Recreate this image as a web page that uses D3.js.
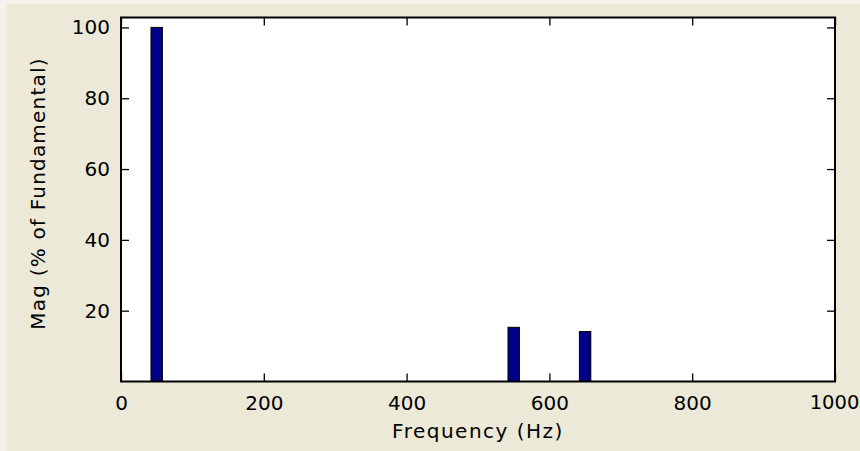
<!DOCTYPE html>
<html>
<head>
<meta charset="utf-8">
<script src="https://cdn.jsdelivr.net/npm/d3@7"></script>
<style>
  html, body { margin: 0; padding: 0; background: #f4f2eb; }
  svg { display: block; }
  text { font-family: "DejaVu Sans", sans-serif; fill: #000; }
</style>
</head>
<body>
<svg id="chart" width="860" height="451"></svg>
<script>
// Harmonic spectrum: frequency (Hz) and magnitude (% of fundamental)
const frequencies = [50, 550, 650];
const magnitudes = [100, 15.3, 14.1];
const xTicks = [0, 200, 400, 600, 800, 1000];
const yTicks = [20, 40, 60, 80, 100];
const xDomain = [0, 1000];
const yDomain = [0, 102.8];
const barWidthHz = 16;

const svg = d3.select("#chart");
const W = 860, H = 451;
const plot = { left: 121, right: 835, top: 17.5, bottom: 381.5 };

// Figure background panel
svg.append("rect").attr("x", 7).attr("y", 4).attr("width", W - 7).attr("height", H - 4)
  .attr("fill", "#ece9d8");

const x = d3.scaleLinear().domain(xDomain).range([plot.left, plot.right]);
const y = d3.scaleLinear().domain(yDomain).range([plot.bottom, plot.top]);

// Axes area
svg.append("rect")
  .attr("x", plot.left).attr("y", plot.top)
  .attr("width", plot.right - plot.left).attr("height", plot.bottom - plot.top)
  .attr("fill", "#fff");

// Bars
const bars = frequencies.map((f, i) => ({ f, m: magnitudes[i] }));
svg.append("g").selectAll("rect").data(bars).join("rect")
  .attr("x", d => x(d.f - barWidthHz / 2))
  .attr("width", d => x(d.f + barWidthHz / 2) - x(d.f - barWidthHz / 2))
  .attr("y", d => y(d.m))
  .attr("height", d => y(0) - y(d.m))
  .attr("fill", "#000088")
  .attr("stroke", "#000")
  .attr("stroke-width", 1);

const tickLen = 8;
const fontSize = 20;
const fmt = d3.format("d");

// Bottom axis with labels
const xAxis = svg.append("g").attr("transform", `translate(0,${plot.bottom})`)
  .call(d3.axisBottom(x).tickValues(xTicks).tickFormat(fmt)
    .tickSizeInner(-tickLen).tickSizeOuter(0).tickPadding(14));
// Top axis (ticks only)
const xAxisTop = svg.append("g").attr("transform", `translate(0,${plot.top})`)
  .call(d3.axisTop(x).tickValues(xTicks).tickSizeInner(-tickLen).tickSizeOuter(0).tickFormat(""));
// Left axis with labels
const yAxis = svg.append("g").attr("transform", `translate(${plot.left},0)`)
  .call(d3.axisLeft(y).tickValues(yTicks).tickFormat(fmt)
    .tickSizeInner(-tickLen).tickSizeOuter(0).tickPadding(11));
// Right axis (ticks only)
const yAxisRight = svg.append("g").attr("transform", `translate(${plot.right},0)`)
  .call(d3.axisRight(y).tickValues(yTicks).tickSizeInner(-tickLen).tickSizeOuter(0).tickFormat(""));

[xAxis, xAxisTop, yAxis, yAxisRight].forEach(g => {
  g.select(".domain").remove();
  g.selectAll(".tick line").attr("stroke", "#000").attr("stroke-width", 1.3);
  g.selectAll("text").attr("font-size", fontSize).attr("font-family", "DejaVu Sans, sans-serif")
    .attr("fill", "#000");
});
xAxis.selectAll("text").attr("dy", "0.71em");
// Keep the last label inside the window
xAxis.selectAll(".tick text").filter(d => d === xDomain[1]).attr("font-size", 19.5).attr("dx", -1);

// Box around the axes
svg.append("rect")
  .attr("x", plot.left).attr("y", plot.top)
  .attr("width", plot.right - plot.left).attr("height", plot.bottom - plot.top)
  .attr("fill", "none").attr("stroke", "#000").attr("stroke-width", 2);

// Axis titles
svg.append("text")
  .attr("x", (plot.left + plot.right) / 2).attr("y", 438)
  .attr("text-anchor", "middle").attr("font-size", fontSize)
  .style("letter-spacing", "1.5px")
  .text("Frequency (Hz)");

svg.append("text")
  .attr("transform", `translate(45,${(plot.top + plot.bottom) / 2 - 6}) rotate(-90)`)
  .attr("text-anchor", "middle").attr("font-size", fontSize)
  .style("letter-spacing", "1.2px")
  .text("Mag (% of Fundamental)");
</script>
</body>
</html>
